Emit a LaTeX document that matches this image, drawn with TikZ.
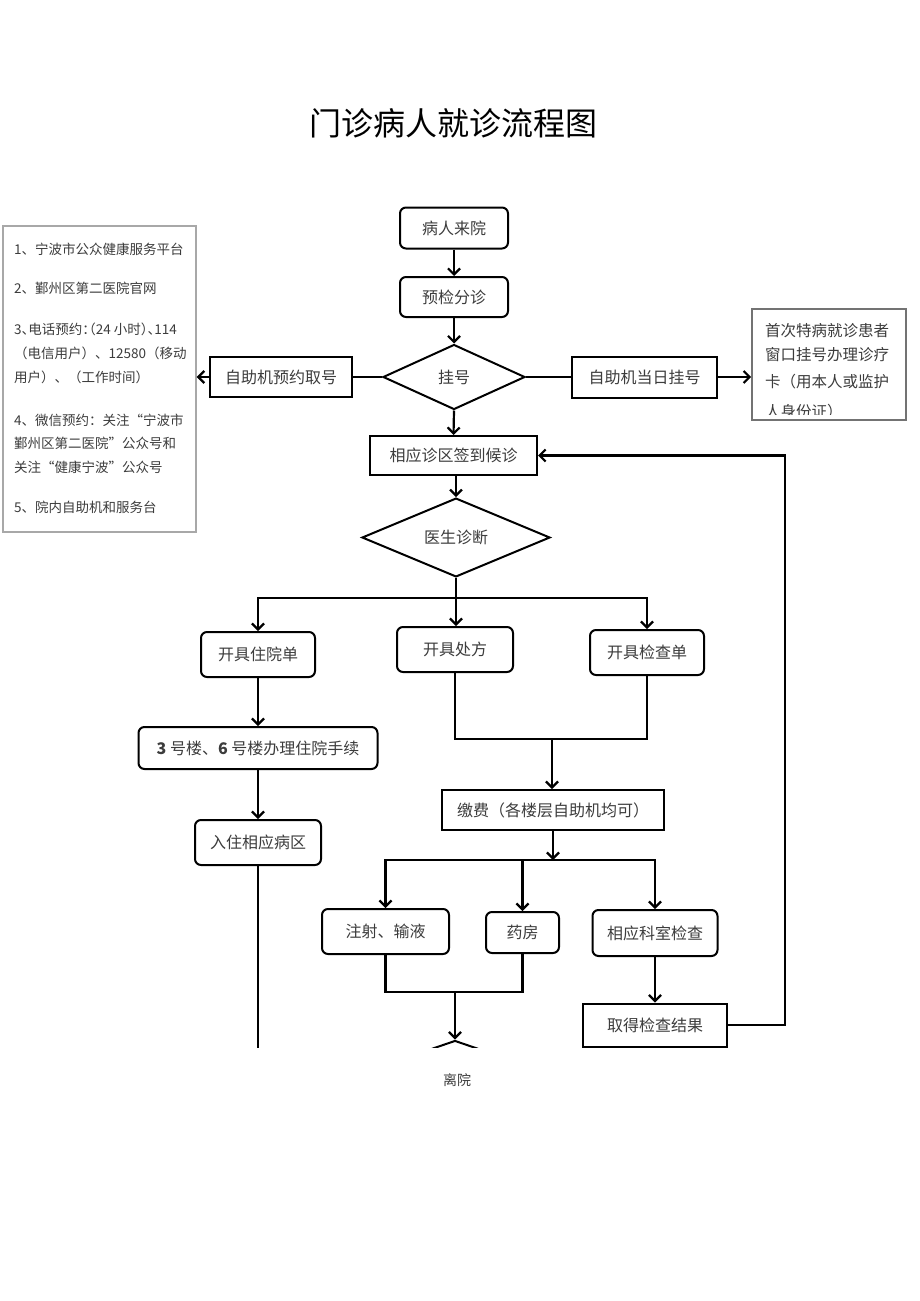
\documentclass[tikz,border=0pt]{standalone}
\usepackage{fontspec}
\setmainfont{Noto Sans CJK SC}
\usetikzlibrary{shapes.geometric,arrows.meta}
\definecolor{txt}{HTML}{3C3C3C}
\definecolor{frame}{HTML}{A8A8A8}
\tikzstyle{every node}=[inner sep=0pt,text=txt]
\tikzstyle{rbox}=[draw=black,line width=2pt,rounded corners=6pt,font=\fontsize{16}{18}\selectfont]
\tikzstyle{sbox}=[draw=black,line width=2pt,font=\fontsize{16}{18}\selectfont]
\tikzstyle{dia}=[diamond,draw=black,line width=2pt,font=\fontsize{16}{18}\selectfont]
\tikzstyle{infotxt}=[anchor=west,font=\fontsize{13.5}{15}\selectfont]
\tikzstyle{firsttxt}=[anchor=west,font=\fontsize{15.5}{17}\selectfont]
\tikzstyle{line}=[line width=2.2pt]
\tikzstyle{arr}=[line width=2.2pt,->,>={Straight Barb[length=6pt,width=12pt]}]

\begin{document}
\begin{tikzpicture}[x=1pt,y=-1pt]
\fill[white] (0,0) rectangle (920,1301);
\useasboundingbox (0,0) rectangle (920,1301);
\node[text=black,font=\fontsize{32}{36}\selectfont] (title) at (453,123) {门诊病人就诊流程图};

% left info box
\node[draw=frame,line width=1.4pt,minimum width=193pt,minimum height=306pt] (info) at (99.5,379) {};
\node[infotxt] (i1) at (14,249) {1、宁波市公众健康服务平台};
\node[infotxt] (i2) at (14,288) {2、鄞州区第二医院官网};
\node[infotxt] (i3) at (14,329) {\addfontfeatures{RawFeature=+halt}3、电话预约：（24 小时）、114};
\node[infotxt] (i4) at (14,353) {（电信用户）、12580（移动};
\node[infotxt] (i5) at (14,377) {用户）、（工作时间）};
\node[infotxt] (i6) at (14,420) {4、微信预约：关注“宁波市};
\node[infotxt] (i7) at (14,443) {鄞州区第二医院”公众号和};
\node[infotxt] (i8) at (14,467) {关注“健康宁波”公众号};
\node[infotxt] (i9) at (14,507) {5、院内自助机和服务台};

% right box
\node[draw=black!55,line width=1.6pt,minimum width=154pt,minimum height=111pt] (first) at (829,364.5) {};
\begin{scope}
\clip (752,310) rectangle (906,414);
\node[firsttxt] (f1) at (765,331) {首次特病就诊患者};
\node[firsttxt] (f2) at (765,355) {窗口挂号办理诊疗};
\node[firsttxt] (f3) at (765,382) {卡（用本人或监护};
\node[firsttxt] (f4) at (765,412) {人身份证）};
\end{scope}

\begin{scope}
\clip (0,0) rectangle (920,1047.5);
\node[rbox,minimum width=108pt,minimum height=41pt] (arrive) at (454,228) {病人来院};
\node[rbox,minimum width=108pt,minimum height=40pt] (triage) at (454,297) {预检分诊};
\node[dia,minimum width=142pt,minimum height=65pt] (reg) at (454,377) {挂号};
\node[sbox,minimum width=142pt,minimum height=40pt] (selfbook) at (281,377) {自助机预约取号};
\node[sbox,minimum width=145pt,minimum height=41pt] (selfday) at (644.5,377) {自助机当日挂号};
\node[sbox,minimum width=167pt,minimum height=39pt] (checkin) at (453.5,455.5) {相应诊区签到候诊};
\node[dia,minimum width=188pt,minimum height=65pt] (diag) at (456,537.5) {医生诊断};
\coordinate (split) at (456,598);
\node[rbox,minimum width=114pt,minimum height=45pt] (inpt) at (258,654.5) {开具住院单};
\node[rbox,minimum width=116pt,minimum height=45pt] (presc) at (455,649.5) {开具处方};
\node[rbox,minimum width=114pt,minimum height=45pt] (exam) at (647,652.5) {开具检查单};
\node[rbox,minimum width=239pt,minimum height=42pt] (admit) at (258,748) {\textbf{3} 号楼、\textbf{6} 号楼办理住院手续};
\node[rbox,minimum width=126pt,minimum height=45pt] (ward) at (258,842.5) {入住相应病区};
\coordinate (join1) at (552,739);
\node[sbox,minimum width=222pt,minimum height=40pt] (pay) at (553,810) {缴费（各楼层自助机均可）};
\coordinate (split2) at (553,860);
\node[rbox,minimum width=127pt,minimum height=45pt] (inject) at (385.5,931.5) {注射、输液};
\node[rbox,minimum width=73pt,minimum height=41pt] (pharm) at (522.5,932.5) {药房};
\node[rbox,minimum width=125pt,minimum height=46pt] (test) at (655,933) {相应科室检查};
\node[sbox,minimum width=144pt,minimum height=43pt] (result) at (655,1025) {取得检查结果};
\coordinate (join2) at (455,992);
\node[dia,minimum width=188pt,minimum height=65pt] (leave) at (455,1073) {};
\coordinate (wardend) at (258,1060);

\draw[arr] (arrive) -- (triage);
\draw[arr] (triage) -- (reg);
\draw[line] (reg.west) -- (selfbook.east);
\draw[arr] (selfbook.west) -- (selfbook.west -| info.east);
\draw[line] (reg.east) -- (selfday.west);
\draw[arr] (selfday.east) -- (selfday.east -| first.west);
\draw[arr] (reg.south) -- (checkin.north);
\draw[arr] (diag.north |- checkin.south) -- (diag.north);
\draw[line] (diag.south) -- (split);
\draw[arr] (split) -| (inpt.north);
\draw[arr] (split) -- (split |- presc.north);
\draw[arr] (split) -| (exam.north);
\draw[arr] (inpt) -- (admit);
\draw[arr] (admit) -- (ward);
\draw[line] (ward.south) -- (wardend);
\draw[line] (presc.south) |- (join1) -| (exam.south);
\draw[arr] (join1) -- (join1 |- pay.north);
\draw[arr] (pay.south) -- (split2);
\draw[arr] (split2) -| (inject.north);
\draw[arr] (split2) -| (pharm.north);
\draw[arr] (split2) -| (test.north);
\draw[line] (inject.south) |- (join2) -| (pharm.south);
\draw[arr] (join2) -- (leave.north);
\draw[arr] (test) -- (result);
\draw[arr] (result.east) -- ++(57,0) |- (checkin.east);
\end{scope}

\node[font=\fontsize{14}{16}\selectfont] (leavetxt) at (457,1080) {离院};
\end{tikzpicture}
\end{document}
